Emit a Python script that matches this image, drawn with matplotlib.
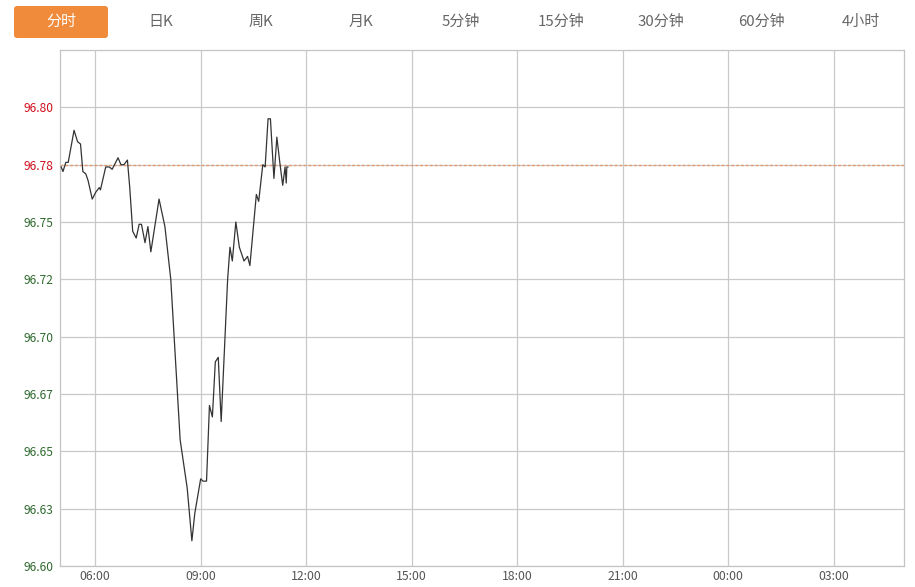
import matplotlib
matplotlib.use("Agg")
import matplotlib.pyplot as plt
from matplotlib.patches import FancyBboxPatch

plt.rcParams['font.family'] = ['Noto Sans CJK SC', 'DejaVu Sans']

# ---- data ----
times = ["05:02", "05:05", "05:10", "05:14", "05:24", "05:30", "05:35", "05:39",
         "05:44", "05:48", "05:55", "06:01", "06:07", "06:09", "06:18", "06:24",
         "06:29", "06:35", "06:39", "06:44", "06:49", "06:55", "06:59", "07:04",
         "07:10", "07:15", "07:19", "07:25", "07:30", "07:35", "07:49", "07:59",
         "08:09", "08:25", "08:37", "08:45", "08:50", "09:00", "09:04", "09:10",
         "09:15", "09:20", "09:25", "09:30", "09:35", "09:46", "09:50", "09:54",
         "10:00", "10:06", "10:14", "10:20", "10:24", "10:35", "10:39", "10:46",
         "10:50", "10:55", "10:59", "11:05", "11:10", "11:15", "11:20", "11:24",
         "11:26", "11:27", "11:29"]
prices = [96.774, 96.772, 96.776, 96.776, 96.790, 96.785, 96.784, 96.772,
          96.771, 96.768, 96.760, 96.763, 96.765, 96.764, 96.774, 96.774,
          96.773, 96.776, 96.778, 96.775, 96.775, 96.777, 96.765, 96.746,
          96.743, 96.749, 96.749, 96.741, 96.748, 96.737, 96.760, 96.748,
          96.725, 96.655, 96.634, 96.611, 96.623, 96.638, 96.637, 96.637,
          96.670, 96.665, 96.689, 96.691, 96.663, 96.725, 96.739, 96.733,
          96.750, 96.739, 96.733, 96.735, 96.731, 96.762, 96.759, 96.775,
          96.774, 96.795, 96.795, 96.769, 96.787, 96.776, 96.766, 96.774,
          96.767, 96.774, 96.774]
prev_close = 96.775

y_ticks = [96.600, 96.625, 96.650, 96.675, 96.700, 96.725, 96.750, 96.775, 96.800]
y_labels = ["96.60", "96.63", "96.65", "96.67", "96.70", "96.72", "96.75", "96.78", "96.80"]
x_ticks = [6, 9, 12, 15, 18, 21, 24, 27]
x_labels = ["06:00", "09:00", "12:00", "15:00", "18:00", "21:00", "00:00", "03:00"]
tabs = ["分时", "日K", "周K", "月K", "5分钟", "15分钟", "30分钟", "60分钟", "4小时"]


def to_hours(s):
    h, m = s.split(":")
    return int(h) + int(m) / 60.0


xs = [to_hours(t) for t in times]

W, H = 915, 587
fig = plt.figure(figsize=(W / 100, H / 100), dpi=100)
fig.patch.set_facecolor("white")

L, R, T, B = 60, 904, 50, 566
ax = fig.add_axes([L / W, (H - B) / H, (R - L) / W, (B - T) / H])
ax.set_xlim(5, 29)
ax.set_ylim(96.600, 96.825)

ax.set_xticks(x_ticks)
ax.set_xticklabels(x_labels, fontsize=8.8, color="#555555")
ax.set_yticks(y_ticks)
ax.set_yticklabels(y_labels, fontsize=8.6)
for lbl, v in zip(ax.get_yticklabels(), y_ticks):
    lbl.set_color("#d0101e" if v >= prev_close - 1e-9 else "#2f6a2f")
ax.tick_params(axis="y", length=0, pad=5)
ax.tick_params(axis="x", length=0, pad=3)

ax.grid(True, color="#c9c9c9", linewidth=0.9)
ax.set_axisbelow(True)
for sp in ax.spines.values():
    sp.set_color("#c4c4c4")
    sp.set_linewidth(0.9)

ax.axhline(prev_close, color="#e39a6e", linestyle=(0, (2, 1.5)), linewidth=1.0, zorder=2)
ax.plot(xs, prices, color="#333333", linewidth=0.9, zorder=3)

# ---- tab bar ----
tab_ax = fig.add_axes([0, 0, 1, 1], facecolor="none")
tab_ax.set_xlim(0, W)
tab_ax.set_ylim(H, 0)
tab_ax.axis("off")
tab_ax.add_patch(FancyBboxPatch((14, 6), 94, 32, boxstyle="round,pad=0,rounding_size=3",
                                facecolor="#f08b3c", edgecolor="none"))
for i, name in enumerate(tabs):
    cx = 61 + 100 * i
    tab_ax.text(cx, 22, name, ha="center", va="center", fontsize=10.8,
                color="white" if i == 0 else "#666666")

fig.savefig("out.png", dpi=100, facecolor="white")
